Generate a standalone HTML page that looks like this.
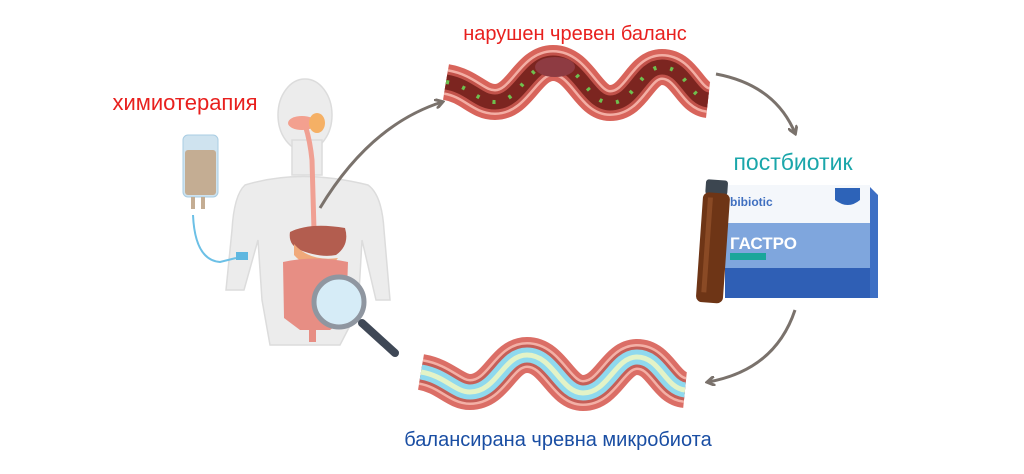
<!DOCTYPE html>
<html><head><meta charset="utf-8"><style>
html,body{margin:0;padding:0;background:#fff;}
svg{display:block}
text{font-family:"Liberation Sans","DejaVu Sans",sans-serif;}
</style></head><body>
<svg width="1024" height="474" viewBox="0 0 1024 474" xmlns="http://www.w3.org/2000/svg">
<defs>
<marker id="ah" markerWidth="10" markerHeight="10" refX="7" refY="5" orient="auto" markerUnits="userSpaceOnUse">
<path d="M0,0 L8,5 L0,10" fill="none" stroke="#7a726c" stroke-width="3"/>
</marker>
<path id="tp" d="M446,82 C470,86 478,102 495,102 C520,102 528,63 553,63 C580,63 588,103 610,103 C635,103 640,67 662,67 C685,67 690,98 708,100"/>
<path id="bp" d="M421,372 C445,376 455,392 470,392 C497,392 503,355 527,355 C553,355 561,393 583,393 C608,393 615,357 637,357 C660,357 665,388 685,390"/>
</defs>
<text x="575" y="40" font-size="20" fill="#e8201e" text-anchor="middle">нарушен чревен баланс</text>
<text x="185" y="110" font-size="22" fill="#e8201e" text-anchor="middle">химиотерапия</text>
<text x="793" y="170" font-size="23" fill="#1aa6aa" text-anchor="middle">постбиотик</text>
<text x="558" y="446" font-size="20" fill="#1a4ea3" text-anchor="middle">балансирана чревна микробиота</text>

<g fill="#ececec" stroke="#dcdcdc" stroke-width="1.5">
<ellipse cx="305" cy="115" rx="27" ry="36"/>
<rect x="292" y="140" width="30" height="35"/>
<path d="M245,185 Q300,168 368,185 Q382,195 384,230 L390,300 L376,300 L362,240 L358,310 L340,345 L270,345 L262,300 L258,240 L244,290 L226,290 L232,230 Q234,195 245,185Z"/>
</g>
<rect x="183" y="135" width="35" height="62" rx="5" fill="#cfe3ef" stroke="#a9cde3"/>
<rect x="185" y="150" width="31" height="45" rx="3" fill="#c4ad93"/>
<rect x="191" y="197" width="4" height="12" fill="#c4ad93"/>
<rect x="201" y="197" width="4" height="12" fill="#c4ad93"/>
<path d="M193,215 Q195,260 220,262 L236,258" fill="none" stroke="#6cc0e6" stroke-width="2"/>
<rect x="236" y="252" width="12" height="8" fill="#5fb7e0"/>
<path d="M305,125 Q310,140 312,160 L314,230" fill="none" stroke="#f0a093" stroke-width="5"/>
<ellipse cx="302" cy="123" rx="14" ry="7" fill="#f3a08f"/>
<ellipse cx="317" cy="123" rx="8" ry="10" fill="#f5b065"/>
<path d="M290,232 Q310,222 345,228 Q350,245 336,255 Q320,258 300,250 Q288,245 290,232Z" fill="#b35d4f"/>
<path d="M294,244 Q310,262 338,258 L330,268 Q305,268 294,255Z" fill="#f0a97a"/>
<path d="M283,262 Q315,255 348,262 L346,318 L330,330 L300,330 L284,318Z" fill="#e78e84"/>
<rect x="309" y="320" width="7" height="22" fill="#e78e84"/>
<line x1="362" y1="323" x2="395" y2="353" stroke="#3f4856" stroke-width="8" stroke-linecap="round"/>
<circle cx="339" cy="302" r="25" fill="#d6ecf7" stroke="#8f96a0" stroke-width="5"/>

<path d="M320,208 Q370,125 442,102" fill="none" stroke="#7a726c" stroke-width="3" marker-end="url(#ah)"/>
<path d="M716,74 Q775,85 795,133" fill="none" stroke="#7a726c" stroke-width="3" marker-end="url(#ah)"/>
<path d="M795,310 Q775,370 708,382" fill="none" stroke="#7a726c" stroke-width="3" marker-end="url(#ah)"/>

<g fill="none">
<use href="#tp" stroke="#d8645b" stroke-width="36"/>
<use href="#tp" stroke="#f3aea4" stroke-width="26"/>
<use href="#tp" stroke="#c2524a" stroke-width="21"/>
<use href="#tp" stroke="#7c2520" stroke-width="15"/>
<use href="#tp" stroke="#6fc04f" stroke-width="4" stroke-dasharray="3 14"/>
</g>
<ellipse cx="555" cy="67" rx="20" ry="10" fill="#8e3b42"/>

<g fill="none">
<use href="#bp" stroke="#db6e66" stroke-width="36"/>
<use href="#bp" stroke="#f3b0a6" stroke-width="26"/>
<use href="#bp" stroke="#c65f58" stroke-width="21"/>
<use href="#bp" stroke="#8fd9ee" stroke-width="15"/>
<use href="#bp" stroke="#e3f3c7" stroke-width="5"/>
</g>

<path d="M725,185 L868,185 L878,195 L878,298 L725,298Z" fill="#3d6fc4"/>
<rect x="725" y="185" width="145" height="38" fill="#f4f7fb"/>
<rect x="725" y="223" width="145" height="45" fill="#7fa6dd"/>
<rect x="725" y="268" width="145" height="30" fill="#2f5fb5"/>
<text x="730" y="206" font-size="12" font-weight="bold" fill="#3f6fc0">bibiotic</text>
<path d="M835,188 L860,188 L860,200 Q848,210 835,200Z" fill="#2d63b8"/>
<text x="730" y="249" font-size="17" font-weight="bold" fill="#fff">ГАСТРО</text>
<rect x="730" y="253" width="36" height="7" fill="#1aa69a"/>
<g transform="rotate(4 716 240)">
<rect x="702" y="180" width="22" height="15" rx="3" fill="#3c4650"/>
<rect x="700" y="193" width="27" height="110" rx="6" fill="#6e3516"/>
<rect x="705" y="198" width="5" height="95" fill="#8a4a25"/>
</g>
</svg>
</body></html>
